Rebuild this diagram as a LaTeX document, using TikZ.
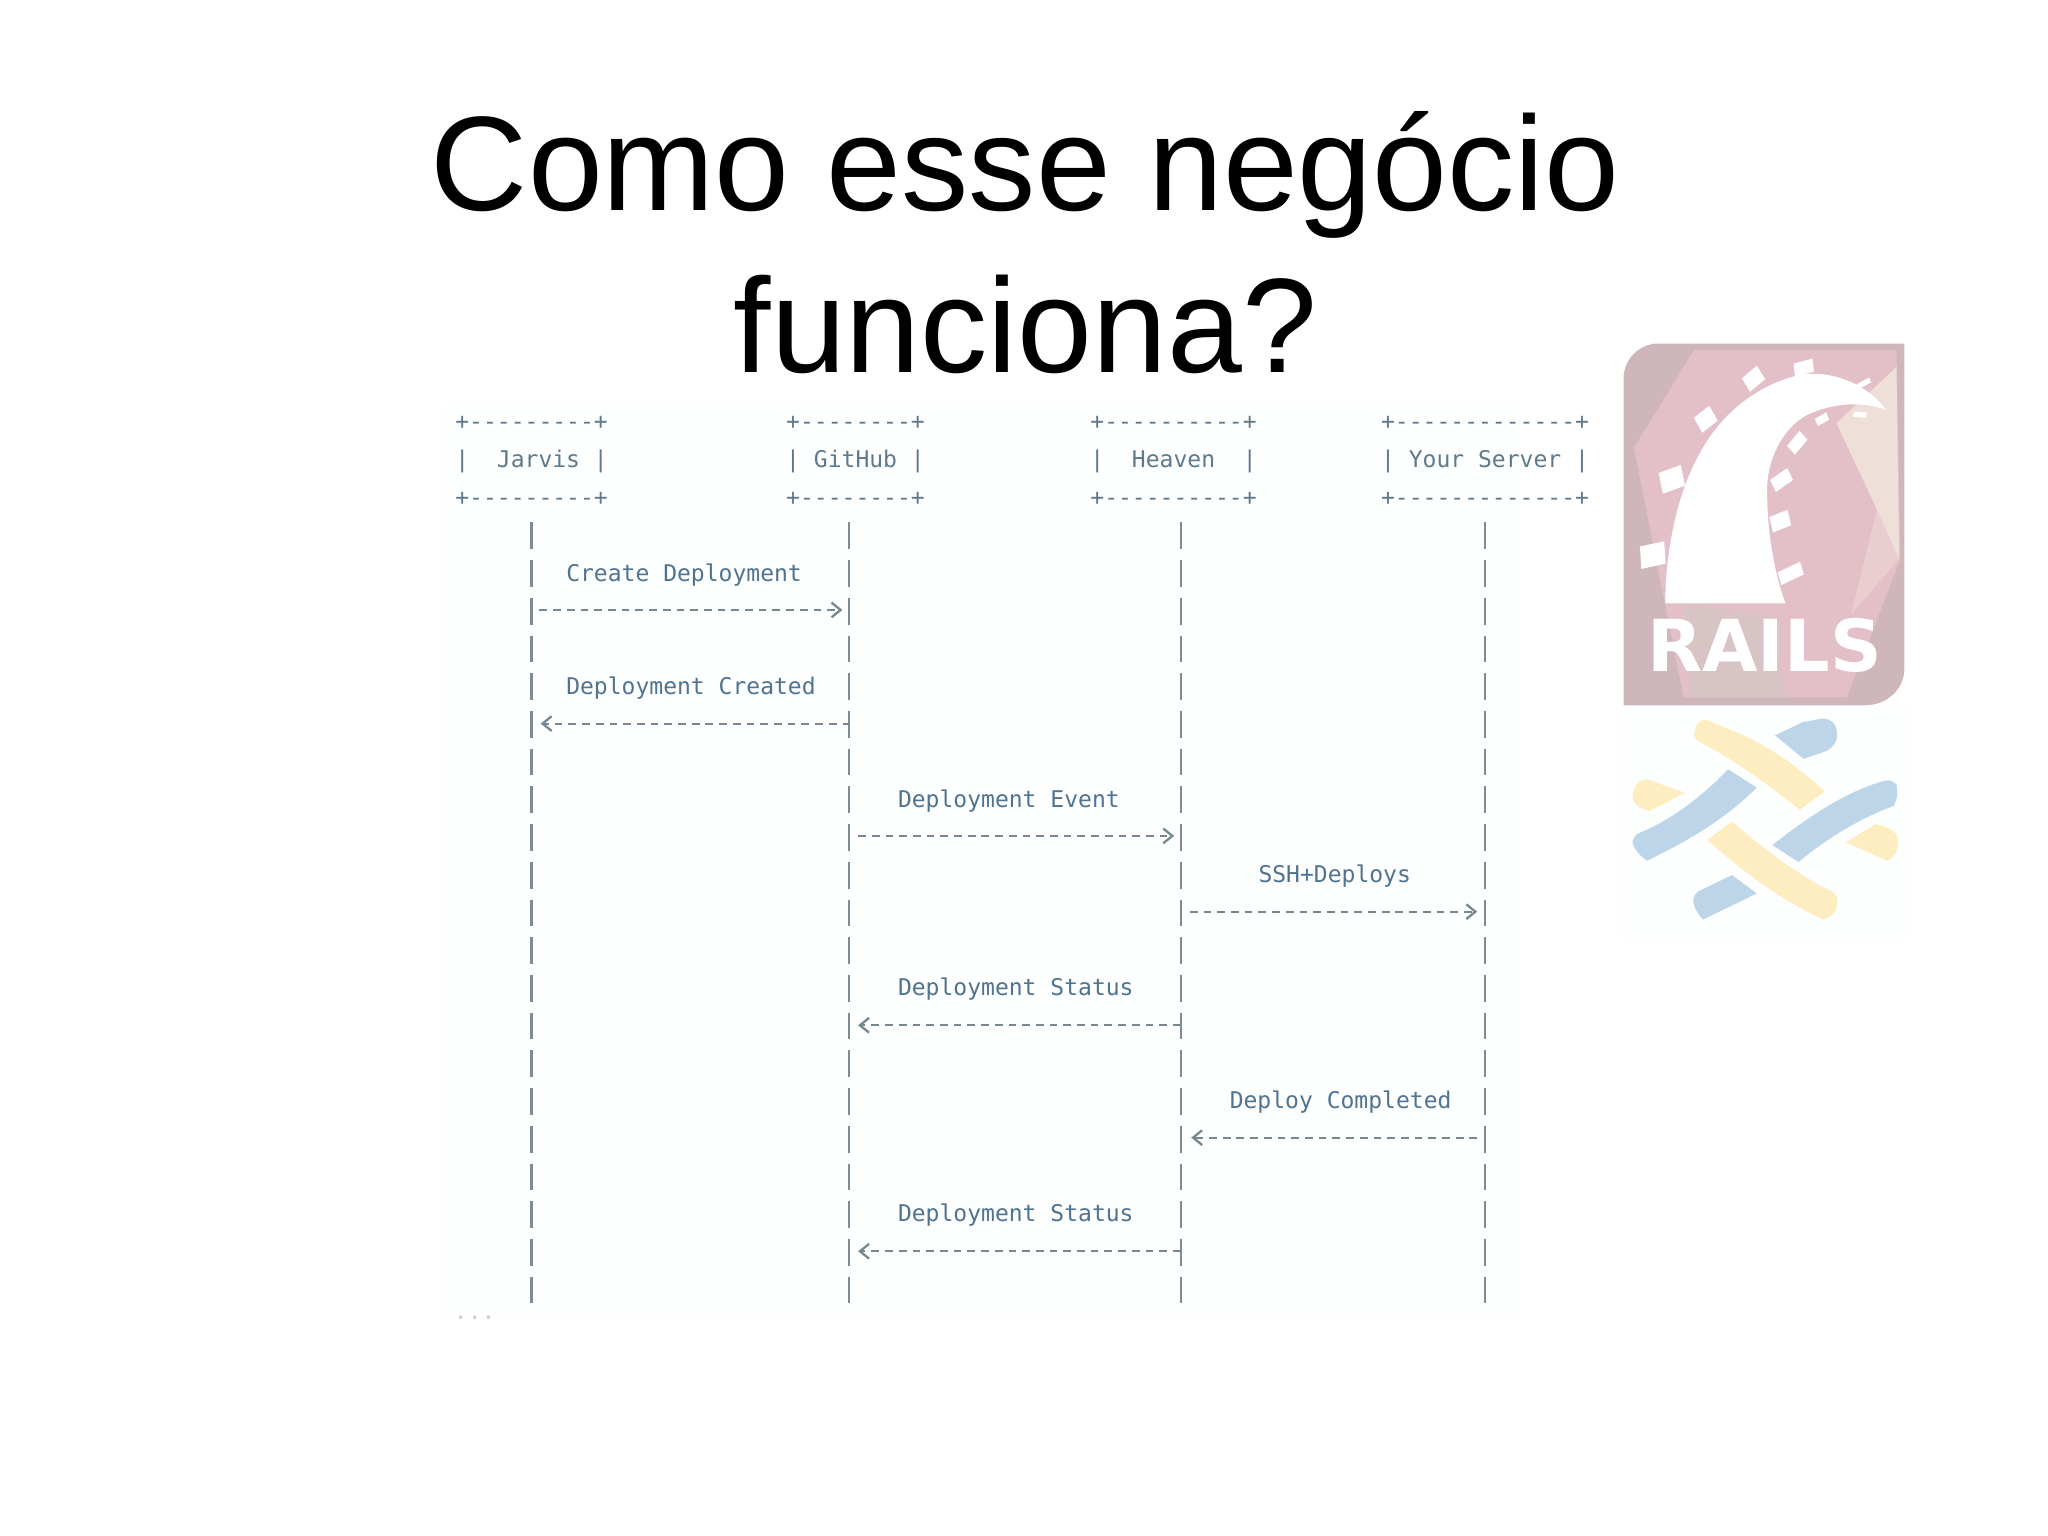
\documentclass[tikz,border=0pt]{standalone}
\usepackage{fontspec}
\setmainfont{Liberation Sans}
\setmonofont{DejaVu Sans Mono}
\usetikzlibrary{arrows.meta}
\definecolor{txtblue}{HTML}{4F7390}
\definecolor{txtgray}{HTML}{5F7A8C}
\definecolor{barcol}{HTML}{7F8C94}
\definecolor{dashcol}{HTML}{76888F}
\definecolor{panelcol}{HTML}{FDFEFE}
\definecolor{railbase}{HTML}{CFB6BA}
\definecolor{railpink}{HTML}{E3BFC8}
\definecolor{railcream}{HTML}{EEDFD9}
\definecolor{railgrey}{HTML}{D8C4C4}
\definecolor{raillight}{HTML}{E9CDCF}
\definecolor{weaveyel}{HTML}{FDEDC0}
\definecolor{weaveblu}{HTML}{BDD5E8}
\tikzset{
  headbox/.style={font=\ttfamily\fontsize{6.55}{10.74}\selectfont,text=txtgray,align=center,inner sep=0pt},
  msglabel/.style={font=\ttfamily\fontsize{6.55}{10.74}\selectfont,text=txtblue,anchor=base west,inner sep=0pt},
  lifeline/.style={draw=barcol,line width=.7pt,dash pattern=on 7.6pt off 3.13pt},
  msgline/.style={draw=dashcol,line width=.6pt,dash pattern=on 2.2pt off 1.7pt,-{Straight Barb[length=2.6pt,width=4.2pt,line width=.65pt]}},
  sleeper/.style={fill=white,inner sep=0pt,rectangle},
  yel/.style={fill=weaveyel},
  blu/.style={fill=weaveblu}
}
\newcommand{\railtie}[5]{\node[sleeper,minimum width=#4*.1306mm,minimum height=#5*.1306mm,rotate=#3,xslant=.15] at (#1,#2) {};}
\begin{document}
\begin{tikzpicture}[x=.013061cm,y=-.013061cm]
\useasboundingbox (0,0) rectangle (1568,1176);
\fill[panelcol] (340,310) rectangle (1165,1010);
\fill[panelcol] (1240,540) rectangle (1460,720);
% title
\node[align=center,inner sep=0pt,font=\fontsize{38.27}{46}\selectfont] (title) at (785,186) {Como esse neg\'ocio\\funciona?};
% actors
\node[headbox] (jarvis) at (407,353) {+---------+\\|\ \ Jarvis\ |\\+---------+};
\node[headbox] (github) at (655,353) {+--------+\\|\ GitHub\ |\\+--------+};
\node[headbox] (heaven) at (898.5,353) {+----------+\\|\ \ Heaven\ \ |\\+----------+};
\node[headbox] (server) at (1137,353) {+-------------+\\|\ Your\ Server\ |\\+-------------+};
% life lines
\foreach \name/\x in {jarvis/407,github/650,heaven/904,server/1137}{
  \coordinate (\name top) at (\x,400);
  \coordinate (\name end) at (\x,998);
  \draw[lifeline] (\name top) -- (\name end);
}
% messages
\foreach \m/\xa/\xb/\y in {create/413/645/467,created/651/414/554,event/657/899/640,ssh/911/1131/698,statusa/904/657/785,done/1131/912/871,statusb/904/657/958}{
  \coordinate (\m a) at (\xa,\y);
  \coordinate (\m b) at (\xb,\y);
  \draw[msgline] (\m a) -- (\m b);
}
\node[msglabel] (lcreate) at (433,445) {Create Deployment};
\node[msglabel] (lcreated) at (433,532) {Deployment Created};
\node[msglabel] (levent) at (687,618) {Deployment Event};
\node[msglabel] (lssh) at (963,676) {SSH+Deploys};
\node[msglabel] (lstatusa) at (687,762) {Deployment Status};
\node[msglabel] (ldone) at (941,849) {Deploy Completed};
\node[msglabel] (lstatusb) at (687,935) {Deployment Status};
\node[msglabel,text=black!20] (more) at (347,1010) {...};
% rails logo
\fill[railbase] (1243,540) -- (1243,290) to[out=90,in=180] (1270,263) -- (1458,263) -- (1458,512) to[out=-90,in=0] (1428,540) -- cycle;
\fill[railpink] (1251,343) -- (1297,268) -- (1452,268) -- (1455,428) -- (1414,534) -- (1289,534) -- cycle;
\fill[raillight] (1437,390) -- (1454,428) -- (1417,471) -- cycle;
\fill[railcream] (1406,324) -- (1452,281) -- (1454,428) -- (1437,390) -- cycle;
\fill[railgrey] (1289,462) -- (1294,534) -- (1368,534) -- (1353,471) -- cycle;
\fill[white] (1275,462) .. controls (1275,420) and (1285,375) .. (1302,346) .. controls (1315,322) and (1340,296) .. (1378,287) .. controls (1402,283) and (1430,294) .. (1444,314) .. controls (1430,308) and (1405,307) .. (1383,318) .. controls (1365,328) and (1352,352) .. (1353,378) .. controls (1353,405) and (1358,438) .. (1367,462) -- cycle;
\railtie{1265.4}{425}{12}{19}{17}
\railtie{1280}{367}{20}{18}{16}
\railtie{1306}{321}{38}{15}{13}
\railtie{1342.5}{290}{40}{15}{12}
\railtie{1381}{281.5}{15}{15}{10}
\railtie{1427}{293.5}{28}{11}{4}
\railtie{1424}{317.5}{-5}{10}{4}
\railtie{1395}{321}{30}{10}{6}
\railtie{1376}{339}{50}{15}{9}
\railtie{1364}{367.5}{35}{16}{10}
\railtie{1363}{399}{22}{15}{12}
\railtie{1371}{439}{25}{19}{10}
\node[text=white,inner sep=0pt,font=\bfseries\sffamily\fontspec{DejaVu Sans}\fontsize{20.4}{20.4}\selectfont] (rails) at (1351,494) {RAILS};
% weave logo
\fill[yel] (1378,620) -- (1397,606) .. controls (1375,585) and (1350,568) .. (1318,556) [rounded corners=2.5pt] -- (1302,549) -- (1295,565) [sharp corners] .. controls (1325,580) and (1350,598) .. cycle;
\fill[blu] (1381,581) [rounded corners=2.5pt] -- (1404,573) -- (1408,560) -- (1401,549) [sharp corners] -- (1380,553) -- (1359,563) -- cycle;
\fill[yel] (1290,607) -- (1263,621) [rounded corners=2.5pt] -- (1251,617) -- (1249,606) -- (1257,595) [sharp corners] -- cycle;
\fill[blu] (1323,589) -- (1345,603) .. controls (1320,628) and (1290,645) .. (1261,659) [rounded corners=2.5pt] -- (1251,651) -- (1249,640) [sharp corners] .. controls (1280,628) and (1305,608) .. cycle;
\fill[blu] (1357,647) -- (1377,660) .. controls (1395,645) and (1420,628) .. (1450,617) [rounded corners=2.5pt] -- (1454,606) -- (1450,596) [sharp corners] .. controls (1415,605) and (1385,625) .. cycle;
\fill[yel] (1326,629) -- (1307,643) .. controls (1335,668) and (1365,690) .. (1396,704) [rounded corners=2.5pt] -- (1405,701) -- (1408,685) [sharp corners] .. controls (1380,672) and (1350,650) .. cycle;
\fill[yel] (1436,631) -- (1413,645) -- (1445,659) [rounded corners=2.5pt] -- (1451,657) -- (1454,643) -- (1450,635) [sharp corners] -- cycle;
\fill[blu] (1326,670) -- (1345,684) -- (1304,704) [rounded corners=2.5pt] -- (1298,698) -- (1295,685) [sharp corners] -- cycle;
\end{tikzpicture}
\end{document}
